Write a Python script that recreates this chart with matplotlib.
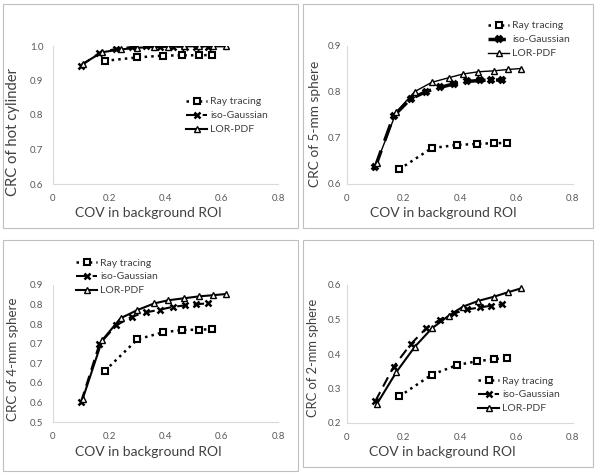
import matplotlib.pyplot as plt
from matplotlib.patches import Rectangle

# COV values (x), shared by all panels
cov_ray = [0.185, 0.30, 0.39, 0.46, 0.52, 0.565]
cov_iso = [0.10, 0.165, 0.225, 0.28, 0.33, 0.38, 0.425, 0.47, 0.51, 0.55]
cov_lor = [0.105, 0.175, 0.24, 0.30, 0.36, 0.41, 0.465, 0.52, 0.57, 0.615]

# CRC of hot cylinder
cyl_ray = [0.957, 0.967, 0.972, 0.973, 0.973, 0.974]
cyl_iso = [0.943, 0.980, 0.992, 0.997, 0.999, 0.998, 0.998, 0.998, 0.998, 0.998]
cyl_lor = [0.948, 0.982, 0.990, 0.995, 0.997, 0.998, 0.999, 0.999, 0.999, 0.999]

# CRC of 5-mm sphere
s5_ray = [0.632, 0.678, 0.685, 0.687, 0.689, 0.689]
s5_iso = [0.637, 0.748, 0.785, 0.801, 0.810, 0.818, 0.823, 0.825, 0.826, 0.826]
s5_lor = [0.646, 0.757, 0.801, 0.821, 0.831, 0.839, 0.844, 0.846, 0.849, 0.851]

# CRC of 4-mm sphere
s4_ray = [0.631, 0.711, 0.729, 0.735, 0.736, 0.737]
s4_iso = [0.552, 0.699, 0.747, 0.769, 0.780, 0.787, 0.794, 0.798, 0.801, 0.803]
s4_lor = [0.558, 0.709, 0.765, 0.786, 0.803, 0.811, 0.816, 0.821, 0.824, 0.827]

# CRC of 2-mm sphere
s2_ray = [0.277, 0.340, 0.368, 0.379, 0.385, 0.389]
s2_iso = [0.263, 0.363, 0.428, 0.474, 0.500, 0.518, 0.529, 0.535, 0.540, 0.544]
s2_lor = [0.254, 0.348, 0.421, 0.474, 0.511, 0.537, 0.554, 0.566, 0.579, 0.590]

x_ticks = [0, 0.2, 0.4, 0.6, 0.8]
x_ticklabels = ['0', '0.2', '0.4', '0.6', '0.8']
cyl_ticks = [0.6, 0.7, 0.8, 0.9, 1.0]
cyl_ticklabels = ['0.6', '0.7', '0.8', '0.9', '1.0']
s5_ticks = [0.6, 0.7, 0.8, 0.9]
s5_ticklabels = ['0.6', '0.7', '0.8', '0.9']
s4_ticks = [0.5, 0.55, 0.6, 0.65, 0.7, 0.75, 0.8, 0.85]
s4_ticklabels = ['0.5', '0.6', '0.6', '0.7', '0.7', '0.8', '0.8', '0.9']
s2_ticks = [0.2, 0.3, 0.4, 0.5, 0.6]
s2_ticklabels = ['0.2', '0.3', '0.4', '0.5', '0.6']

plt.rcParams['font.family'] = ['Lato', 'DejaVu Sans']

W, H = 600, 476
fig = plt.figure(figsize=(6, 4.76), dpi=100)


def px_axes(l, t, r, b):
    return fig.add_axes([l / W, 1 - b / H, (r - l) / W, (b - t) / H])


def frame(l, t, r, b):
    fig.patches.append(Rectangle((l / W, 1 - b / H), (r - l) / W, (b - t) / H,
                                 transform=fig.transFigure, fill=False,
                                 edgecolor='#bfbfbf', lw=0.8))


panels = [
    # box, axes, ylabel, data, yticks, legend anchor, iso lw, lor lw, ytick pad,
    # xlabel pos, ylabel pos, ylabel size
    ((3, 4, 298, 228), (53, 46, 278, 184), 'CRC of hot cylinder',
     (cyl_ray, cyl_iso, cyl_lor), (cyl_ticks, cyl_ticklabels), (181, 92), 1.5, 1.5, 7,
     (148, 213), (13, 132), 10.7),
    ((303, 4, 593, 228), (347, 46, 573, 184), 'CRC of 5-mm sphere',
     (s5_ray, s5_iso, s5_lor), (s5_ticks, s5_ticklabels), (483, 16), 2.5, 1.0, 4,
     (443, 213), (315, 124), 9.8),
    ((3, 240, 298, 471), (53, 285, 278, 422), 'CRC of 4-mm sphere',
     (s4_ray, s4_iso, s4_lor), (s4_ticks, s4_ticklabels), (71, 253), 1.5, 1.5, 7,
     (148, 452), (13, 359), 9.6),
    ((303, 240, 593, 467), (347, 285, 573, 423), 'CRC of 2-mm sphere',
     (s2_ray, s2_iso, s2_lor), (s2_ticks, s2_ticklabels), (473, 371), 1.5, 1.5, 4,
     (442, 452), (313, 358), 9.3),
]

for box, ax_px, ylab, (ray, iso, lor), (yt, ytl), leg, iso_lw, lor_lw, ypad, xl, yl, ysz in panels:
    frame(*box)
    ax = px_axes(*ax_px)
    ax.plot(cov_ray, ray, ls=':', color='black', lw=1.8, marker='s', ms=4.5,
            mfc='white', mec='black', mew=1.5, label='Ray tracing')
    ax.plot(cov_iso, iso, ls=(0, (5, 3)), color='black', lw=iso_lw, marker='x', ms=5,
            mew=iso_lw + 0.3, label='iso-Gaussian')
    ax.plot(cov_lor, lor, ls='-', color='black', lw=lor_lw, marker='^', ms=5,
            mfc='white', mec='black', mew=1.0, label='LOR-PDF')
    ax.set_xlim(0, 0.8)
    ax.set_ylim(yt[0], yt[-1])
    ax.set_xticks(x_ticks)
    ax.set_xticklabels(x_ticklabels)
    ax.set_yticks(yt)
    ax.set_yticklabels(ytl)
    ax.tick_params(length=0, labelsize=7, labelcolor='#595959')
    ax.tick_params(axis='x', pad=7)
    ax.tick_params(axis='y', pad=ypad)
    for s in ['top', 'right']:
        ax.spines[s].set_visible(False)
    for s in ['left', 'bottom']:
        ax.spines[s].set_color('#d9d9d9')
    fig.text(xl[0] / W, 1 - xl[1] / H, 'COV in background ROI', fontsize=10,
             color='#404040', ha='center', va='center')
    fig.text(yl[0] / W, 1 - yl[1] / H, ylab, fontsize=ysz, color='#404040',
             ha='center', va='center', rotation=90)
    ax.patch.set_alpha(0)
    ax.legend(loc='upper left', bbox_to_anchor=(leg[0] / W, 1 - leg[1] / H),
              bbox_transform=fig.transFigure, frameon=False, fontsize=7.5,
              handlelength=2.0, handletextpad=0.3, labelspacing=0.45,
              borderpad=0, labelcolor='#404040')

fig.savefig('out.png', dpi=100)
